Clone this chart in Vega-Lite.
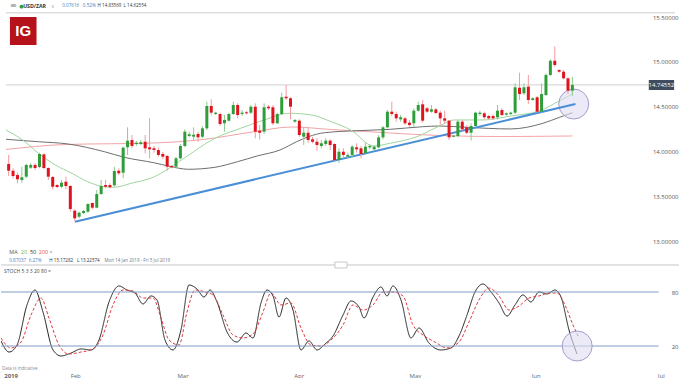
{
"$schema":"https://vega.github.io/schema/vega-lite/v6.json",
"padding":0,
"autosize":{"type":"pad"},
"background":"#ffffff",
"bounds":"flush",
"spacing":0,
"resolve":{"scale":{"color":"independent","strokeDash":"independent"}},
"config":{"view":{"stroke":null},"text":{"font":"Open Sans"},"axis":{"labelFont":"Open Sans"}},
"datasets":{
"one":[{}],
"candles":[
{"i":0,"o":13.867,"h":13.967,"l":13.733,"c":13.792},
{"i":1,"o":13.792,"h":13.819,"l":13.708,"c":13.733},
{"i":2,"o":13.744,"h":13.770,"l":13.652,"c":13.697},
{"i":3,"o":13.689,"h":13.837,"l":13.659,"c":13.719},
{"i":4,"o":13.726,"h":13.867,"l":13.708,"c":13.856},
{"i":5,"o":13.826,"h":13.878,"l":13.811,"c":13.856},
{"i":6,"o":13.856,"h":13.878,"l":13.800,"c":13.822},
{"i":7,"o":13.833,"h":13.992,"l":13.819,"c":13.978},
{"i":8,"o":13.974,"h":13.986,"l":13.808,"c":13.822},
{"i":9,"o":13.822,"h":13.830,"l":13.689,"c":13.726},
{"i":10,"o":13.722,"h":13.733,"l":13.586,"c":13.614},
{"i":11,"o":13.633,"h":13.644,"l":13.600,"c":13.611},
{"i":12,"o":13.614,"h":13.689,"l":13.597,"c":13.659},
{"i":13,"o":13.670,"h":13.726,"l":13.586,"c":13.622},
{"i":14,"o":13.622,"h":13.633,"l":13.337,"c":13.367},
{"i":15,"o":13.348,"h":13.363,"l":13.2257,"c":13.263},
{"i":16,"o":13.281,"h":13.337,"l":13.263,"c":13.326},
{"i":17,"o":13.322,"h":13.356,"l":13.311,"c":13.344},
{"i":18,"o":13.337,"h":13.430,"l":13.326,"c":13.422},
{"i":19,"o":13.433,"h":13.437,"l":13.363,"c":13.381},
{"i":20,"o":13.381,"h":13.578,"l":13.374,"c":13.533},
{"i":21,"o":13.533,"h":13.689,"l":13.522,"c":13.622},
{"i":22,"o":13.633,"h":13.689,"l":13.597,"c":13.614},
{"i":23,"o":13.633,"h":13.652,"l":13.597,"c":13.608},
{"i":24,"o":13.630,"h":13.837,"l":13.614,"c":13.789},
{"i":25,"o":13.792,"h":13.819,"l":13.744,"c":13.763},
{"i":26,"o":13.770,"h":14.059,"l":13.708,"c":14.048},
{"i":27,"o":14.052,"h":14.274,"l":13.967,"c":14.126},
{"i":28,"o":14.133,"h":14.189,"l":14.041,"c":14.067},
{"i":29,"o":14.089,"h":14.122,"l":14.067,"c":14.103},
{"i":30,"o":14.089,"h":14.133,"l":14.078,"c":14.108},
{"i":31,"o":14.114,"h":14.189,"l":13.986,"c":14.041},
{"i":32,"o":14.052,"h":14.374,"l":13.930,"c":14.030},
{"i":33,"o":14.041,"h":14.067,"l":13.992,"c":14.022},
{"i":34,"o":14.022,"h":14.052,"l":13.948,"c":13.967},
{"i":35,"o":13.978,"h":14.003,"l":13.919,"c":13.948},
{"i":36,"o":13.956,"h":13.967,"l":13.792,"c":13.837},
{"i":37,"o":13.844,"h":13.856,"l":13.819,"c":13.830},
{"i":38,"o":13.837,"h":13.948,"l":13.819,"c":13.930},
{"i":39,"o":13.930,"h":14.089,"l":13.919,"c":14.067},
{"i":40,"o":14.067,"h":14.252,"l":14.052,"c":14.226},
{"i":41,"o":14.178,"h":14.226,"l":14.163,"c":14.197},
{"i":42,"o":14.170,"h":14.274,"l":14.133,"c":14.192},
{"i":43,"o":14.200,"h":14.226,"l":14.114,"c":14.163},
{"i":44,"o":14.170,"h":14.289,"l":14.152,"c":14.263},
{"i":45,"o":14.263,"h":14.559,"l":14.244,"c":14.511},
{"i":46,"o":14.511,"h":14.586,"l":14.411,"c":14.437},
{"i":47,"o":14.422,"h":14.448,"l":14.411,"c":14.437},
{"i":48,"o":14.422,"h":14.437,"l":14.289,"c":14.311},
{"i":49,"o":14.319,"h":14.411,"l":14.226,"c":14.356},
{"i":50,"o":14.348,"h":14.437,"l":14.337,"c":14.422},
{"i":51,"o":14.422,"h":14.559,"l":14.411,"c":14.522},
{"i":52,"o":14.522,"h":14.541,"l":14.374,"c":14.411},
{"i":53,"o":14.422,"h":14.467,"l":14.400,"c":14.437},
{"i":54,"o":14.441,"h":14.456,"l":14.417,"c":14.430},
{"i":55,"o":14.437,"h":14.522,"l":14.422,"c":14.503},
{"i":56,"o":14.503,"h":14.541,"l":14.152,"c":14.226},
{"i":57,"o":14.237,"h":14.300,"l":14.141,"c":14.214},
{"i":58,"o":14.226,"h":14.541,"l":14.200,"c":14.497},
{"i":59,"o":14.503,"h":14.522,"l":14.467,"c":14.486},
{"i":60,"o":14.497,"h":14.522,"l":14.300,"c":14.319},
{"i":61,"o":14.319,"h":14.437,"l":14.311,"c":14.422},
{"i":62,"o":14.422,"h":14.659,"l":14.411,"c":14.608},
{"i":63,"o":14.614,"h":14.744,"l":14.578,"c":14.597},
{"i":64,"o":14.597,"h":14.608,"l":14.363,"c":14.503},
{"i":65,"o":14.337,"h":14.367,"l":14.326,"c":14.356},
{"i":66,"o":14.348,"h":14.363,"l":14.170,"c":14.189},
{"i":67,"o":14.170,"h":14.274,"l":14.078,"c":14.214},
{"i":68,"o":14.214,"h":14.274,"l":14.103,"c":14.133},
{"i":69,"o":14.141,"h":14.170,"l":14.097,"c":14.114},
{"i":70,"o":14.114,"h":14.152,"l":14.014,"c":14.078},
{"i":71,"o":14.067,"h":14.133,"l":14.041,"c":14.097},
{"i":72,"o":14.089,"h":14.152,"l":14.067,"c":14.126},
{"i":73,"o":14.126,"h":14.141,"l":14.022,"c":14.078},
{"i":74,"o":14.089,"h":14.097,"l":13.903,"c":13.911},
{"i":75,"o":13.911,"h":14.041,"l":13.878,"c":14.003},
{"i":76,"o":14.003,"h":14.041,"l":13.930,"c":13.967},
{"i":77,"o":13.948,"h":13.992,"l":13.926,"c":13.967},
{"i":78,"o":13.967,"h":14.078,"l":13.941,"c":14.059},
{"i":79,"o":14.052,"h":14.097,"l":13.992,"c":14.030},
{"i":80,"o":14.041,"h":14.067,"l":13.930,"c":13.978},
{"i":81,"o":13.986,"h":14.103,"l":13.967,"c":14.059},
{"i":82,"o":14.052,"h":14.089,"l":14.030,"c":14.067},
{"i":83,"o":14.030,"h":14.072,"l":14.022,"c":14.059},
{"i":84,"o":14.052,"h":14.189,"l":14.041,"c":14.163},
{"i":85,"o":14.163,"h":14.289,"l":14.141,"c":14.274},
{"i":86,"o":14.274,"h":14.467,"l":14.263,"c":14.448},
{"i":87,"o":14.448,"h":14.559,"l":14.400,"c":14.422},
{"i":88,"o":14.422,"h":14.448,"l":14.337,"c":14.374},
{"i":89,"o":14.363,"h":14.411,"l":14.337,"c":14.386},
{"i":90,"o":14.374,"h":14.392,"l":14.300,"c":14.319},
{"i":91,"o":14.326,"h":14.356,"l":14.281,"c":14.300},
{"i":92,"o":14.319,"h":14.486,"l":14.281,"c":14.459},
{"i":93,"o":14.459,"h":14.559,"l":14.448,"c":14.522},
{"i":94,"o":14.530,"h":14.578,"l":14.326,"c":14.348},
{"i":95,"o":14.486,"h":14.500,"l":14.433,"c":14.448},
{"i":96,"o":14.448,"h":14.522,"l":14.437,"c":14.474},
{"i":97,"o":14.474,"h":14.489,"l":14.422,"c":14.433},
{"i":98,"o":14.437,"h":14.459,"l":14.300,"c":14.374},
{"i":99,"o":14.374,"h":14.459,"l":14.319,"c":14.348},
{"i":100,"o":14.348,"h":14.356,"l":14.133,"c":14.163},
{"i":101,"o":14.170,"h":14.189,"l":14.163,"c":14.181},
{"i":102,"o":14.178,"h":14.356,"l":14.163,"c":14.337},
{"i":103,"o":14.337,"h":14.356,"l":14.237,"c":14.252},
{"i":104,"o":14.274,"h":14.300,"l":14.200,"c":14.214},
{"i":105,"o":14.214,"h":14.319,"l":14.126,"c":14.289},
{"i":106,"o":14.289,"h":14.448,"l":14.274,"c":14.437},
{"i":107,"o":14.422,"h":14.459,"l":14.400,"c":14.437},
{"i":108,"o":14.430,"h":14.448,"l":14.363,"c":14.386},
{"i":109,"o":14.400,"h":14.411,"l":14.363,"c":14.374},
{"i":110,"o":14.400,"h":14.422,"l":14.356,"c":14.374},
{"i":111,"o":14.386,"h":14.522,"l":14.363,"c":14.459},
{"i":112,"o":14.467,"h":14.486,"l":14.400,"c":14.411},
{"i":113,"o":14.414,"h":14.439,"l":14.406,"c":14.430},
{"i":114,"o":14.422,"h":14.448,"l":14.411,"c":14.437},
{"i":115,"o":14.437,"h":14.763,"l":14.422,"c":14.719},
{"i":116,"o":14.714,"h":14.881,"l":14.578,"c":14.644},
{"i":117,"o":14.652,"h":14.763,"l":14.633,"c":14.719},
{"i":118,"o":14.726,"h":14.856,"l":14.533,"c":14.578},
{"i":119,"o":14.578,"h":14.608,"l":14.570,"c":14.597},
{"i":120,"o":14.608,"h":14.622,"l":14.437,"c":14.448},
{"i":121,"o":14.448,"h":14.763,"l":14.437,"c":14.644},
{"i":122,"o":14.633,"h":14.874,"l":14.622,"c":14.856},
{"i":123,"o":14.856,"h":15.030,"l":14.844,"c":15.014},
{"i":124,"o":15.014,"h":15.1728,"l":14.948,"c":14.967},
{"i":125,"o":14.911,"h":14.919,"l":14.881,"c":14.892},
{"i":126,"o":14.892,"h":14.911,"l":14.808,"c":14.819},
{"i":127,"o":14.819,"h":14.830,"l":14.644,"c":14.681},
{"i":128,"o":14.681,"h":14.8357,"l":14.6255,"c":14.7455}
],
"ma":[
{"i":-0.6,"p":14.028,"ma":"200"},{"i":12.82,"p":14.083,"ma":"200"},{"i":32.95,"p":14.100,"ma":"200"},{"i":44.14,"p":14.139,"ma":"200"},{"i":55.33,"p":14.222,"ma":"200"},{"i":64.27,"p":14.278,"ma":"200"},{"i":73.22,"p":14.250,"ma":"200"},{"i":86.64,"p":14.211,"ma":"200"},{"i":97.83,"p":14.183,"ma":"200"},{"i":111.25,"p":14.172,"ma":"200"},{"i":128.03,"p":14.178,"ma":"200"},
{"i":-0.6,"p":14.141,"ma":"50"},{"i":6.78,"p":14.114,"ma":"50"},{"i":13.49,"p":14.089,"ma":"50"},{"i":21.77,"p":14.003,"ma":"50"},{"i":26.24,"p":13.941,"ma":"50"},{"i":32.95,"p":13.881,"ma":"50"},{"i":36.31,"p":13.844,"ma":"50"},{"i":40.78,"p":13.808,"ma":"50"},{"i":46.82,"p":13.830,"ma":"50"},{"i":51.97,"p":13.892,"ma":"50"},{"i":56.44,"p":13.956,"ma":"50"},{"i":61.59,"p":14.022,"ma":"50"},{"i":65.39,"p":14.114,"ma":"50"},{"i":68.08,"p":14.170,"ma":"50"},{"i":71.66,"p":14.214,"ma":"50"},{"i":79.26,"p":14.237,"ma":"50"},{"i":86.64,"p":14.252,"ma":"50"},{"i":94.03,"p":14.281,"ma":"50"},{"i":97.83,"p":14.289,"ma":"50"},{"i":104.1,"p":14.274,"ma":"50"},{"i":113.93,"p":14.256,"ma":"50"},{"i":121.31,"p":14.319,"ma":"50"},{"i":125.12,"p":14.386,"ma":"50"},{"i":128.03,"p":14.437,"ma":"50"},
{"i":-0.6,"p":14.244,"ma":"20"},{"i":3.2,"p":14.133,"ma":"20"},{"i":6.78,"p":13.986,"ma":"20"},{"i":10.58,"p":13.856,"ma":"20"},{"i":14.38,"p":13.763,"ma":"20"},{"i":17.96,"p":13.670,"ma":"20"},{"i":21.77,"p":13.614,"ma":"20"},{"i":24.0,"p":13.608,"ma":"20"},{"i":27.81,"p":13.652,"ma":"20"},{"i":32.95,"p":13.722,"ma":"20"},{"i":39.22,"p":13.911,"ma":"20"},{"i":46.82,"p":14.152,"ma":"20"},{"i":52.64,"p":14.263,"ma":"20"},{"i":58.01,"p":14.356,"ma":"20"},{"i":63.83,"p":14.430,"ma":"20"},{"i":68.75,"p":14.411,"ma":"20"},{"i":73.22,"p":14.337,"ma":"20"},{"i":77.7,"p":14.244,"ma":"20"},{"i":82.84,"p":14.067,"ma":"20"},{"i":86.64,"p":14.097,"ma":"20"},{"i":92.68,"p":14.170,"ma":"20"},{"i":97.83,"p":14.289,"ma":"20"},{"i":101.19,"p":14.356,"ma":"20"},{"i":107.9,"p":14.356,"ma":"20"},{"i":113.93,"p":14.400,"ma":"20"},{"i":120.65,"p":14.459,"ma":"20"},{"i":125.12,"p":14.570,"ma":"20"},{"i":128.03,"p":14.644,"ma":"20"}
],
"stoch":[
{"i":-0.6,"s":25.6,"k":"K"},{"i":1.19,"s":13.3,"k":"K"},{"i":2.98,"s":21.1,"k":"K"},{"i":5.21,"s":65.6,"k":"K"},{"i":7.0,"s":82.2,"k":"K"},{"i":8.79,"s":57.8,"k":"K"},{"i":11.03,"s":15.6,"k":"K"},{"i":12.82,"s":8.9,"k":"K"},{"i":15.06,"s":12.2,"k":"K"},{"i":17.29,"s":16.7,"k":"K"},{"i":19.53,"s":15.6,"k":"K"},{"i":21.32,"s":26.7,"k":"K"},{"i":23.56,"s":68.9,"k":"K"},{"i":25.79,"s":86.7,"k":"K"},{"i":27.58,"s":82.2,"k":"K"},{"i":29.37,"s":78.9,"k":"K"},{"i":31.16,"s":66.7,"k":"K"},{"i":32.95,"s":75.6,"k":"K"},{"i":34.3,"s":71.1,"k":"K"},{"i":36.08,"s":26.7,"k":"K"},{"i":37.87,"s":15.6,"k":"K"},{"i":39.66,"s":37.8,"k":"K"},{"i":41.45,"s":87.8,"k":"K"},{"i":43.24,"s":83.3,"k":"K"},{"i":44.81,"s":74.4,"k":"K"},{"i":46.15,"s":82.2,"k":"K"},{"i":47.72,"s":68.9,"k":"K"},{"i":49.96,"s":35.6,"k":"K"},{"i":52.19,"s":24.4,"k":"K"},{"i":54.21,"s":34.4,"k":"K"},{"i":55.77,"s":28.9,"k":"K"},{"i":57.56,"s":67.8,"k":"K"},{"i":58.9,"s":82.2,"k":"K"},{"i":60.25,"s":75.6,"k":"K"},{"i":61.59,"s":52.2,"k":"K"},{"i":63.15,"s":73.3,"k":"K"},{"i":64.72,"s":60.0,"k":"K"},{"i":66.51,"s":15.6,"k":"K"},{"i":68.3,"s":25.6,"k":"K"},{"i":70.09,"s":15.6,"k":"K"},{"i":71.88,"s":22.2,"k":"K"},{"i":73.67,"s":31.1,"k":"K"},{"i":75.91,"s":54.4,"k":"K"},{"i":77.7,"s":70.0,"k":"K"},{"i":79.49,"s":63.3,"k":"K"},{"i":80.6,"s":51.1,"k":"K"},{"i":82.62,"s":74.4,"k":"K"},{"i":84.41,"s":85.6,"k":"K"},{"i":85.75,"s":75.6,"k":"K"},{"i":87.09,"s":86.7,"k":"K"},{"i":88.88,"s":71.1,"k":"K"},{"i":91.12,"s":28.9,"k":"K"},{"i":92.91,"s":40.0,"k":"K"},{"i":95.14,"s":23.3,"k":"K"},{"i":97.83,"s":15.6,"k":"K"},{"i":100.07,"s":17.8,"k":"K"},{"i":101.86,"s":31.1,"k":"K"},{"i":103.65,"s":54.4,"k":"K"},{"i":105.44,"s":80.0,"k":"K"},{"i":107.23,"s":88.9,"k":"K"},{"i":109.02,"s":80.0,"k":"K"},{"i":110.81,"s":67.8,"k":"K"},{"i":112.6,"s":53.3,"k":"K"},{"i":114.39,"s":65.6,"k":"K"},{"i":116.17,"s":76.7,"k":"K"},{"i":117.96,"s":68.9,"k":"K"},{"i":119.75,"s":80.0,"k":"K"},{"i":121.54,"s":77.8,"k":"K"},{"i":123.33,"s":82.2,"k":"K"},{"i":124.68,"s":74.4,"k":"K"},{"i":126.47,"s":37.8,"k":"K"},{"i":128.26,"s":11.1,"k":"K"},
{"i":-0.6,"s":28.9,"k":"D"},{"i":1.63,"s":17.8,"k":"D"},{"i":3.87,"s":24.4,"k":"D"},{"i":6.11,"s":54.4,"k":"D"},{"i":8.34,"s":73.3,"k":"D"},{"i":10.13,"s":51.1,"k":"D"},{"i":12.37,"s":21.1,"k":"D"},{"i":14.61,"s":11.1,"k":"D"},{"i":17.29,"s":13.3,"k":"D"},{"i":19.98,"s":16.7,"k":"D"},{"i":22.21,"s":32.2,"k":"D"},{"i":24.45,"s":65.6,"k":"D"},{"i":26.69,"s":82.2,"k":"D"},{"i":28.93,"s":81.1,"k":"D"},{"i":31.16,"s":73.3,"k":"D"},{"i":33.4,"s":73.3,"k":"D"},{"i":35.19,"s":51.1,"k":"D"},{"i":36.98,"s":26.7,"k":"D"},{"i":39.22,"s":21.1,"k":"D"},{"i":41.01,"s":57.8,"k":"D"},{"i":42.8,"s":82.2,"k":"D"},{"i":45.03,"s":80.0,"k":"D"},{"i":46.82,"s":76.7,"k":"D"},{"i":49.06,"s":54.4,"k":"D"},{"i":51.3,"s":32.2,"k":"D"},{"i":53.53,"s":28.9,"k":"D"},{"i":55.77,"s":33.3,"k":"D"},{"i":58.01,"s":57.8,"k":"D"},{"i":59.8,"s":78.9,"k":"D"},{"i":62.04,"s":65.6,"k":"D"},{"i":64.27,"s":67.8,"k":"D"},{"i":66.51,"s":40.0,"k":"D"},{"i":68.75,"s":21.1,"k":"D"},{"i":70.99,"s":20.0,"k":"D"},{"i":73.22,"s":26.7,"k":"D"},{"i":75.91,"s":43.3,"k":"D"},{"i":78.15,"s":65.6,"k":"D"},{"i":80.38,"s":60.0,"k":"D"},{"i":82.62,"s":65.6,"k":"D"},{"i":84.86,"s":80.0,"k":"D"},{"i":87.09,"s":80.0,"k":"D"},{"i":89.33,"s":75.6,"k":"D"},{"i":91.57,"s":43.3,"k":"D"},{"i":93.8,"s":32.2,"k":"D"},{"i":96.49,"s":24.4,"k":"D"},{"i":99.17,"s":17.8,"k":"D"},{"i":101.86,"s":24.4,"k":"D"},{"i":104.09,"s":46.7,"k":"D"},{"i":106.33,"s":71.1,"k":"D"},{"i":108.57,"s":84.4,"k":"D"},{"i":110.81,"s":75.6,"k":"D"},{"i":113.05,"s":60.0,"k":"D"},{"i":115.28,"s":64.4,"k":"D"},{"i":117.52,"s":73.3,"k":"D"},{"i":119.75,"s":75.6,"k":"D"},{"i":121.99,"s":78.9,"k":"D"},{"i":123.78,"s":78.9,"k":"D"},{"i":125.57,"s":65.6,"k":"D"},{"i":127.36,"s":43.3,"k":"D"},{"i":128.7,"s":28.9,"k":"D"}
]
},
"vconcat":[
{"width":679,"height":265,"resolve":{"axis":{"x":"independent","y":"independent"}},"layer":[
{"data":{"name":"ma"},"mark":{"type":"line","strokeWidth":1,"interpolate":"monotone","clip":true},"encoding":{"x":{"field":"i","type":"quantitative","scale":{"domain":[-0.604,151.3],"nice":false,"zero":false},"axis":null,"title":null},"y":{"field":"p","type":"quantitative","scale":{"domain":[12.7444,15.6889],"nice":false,"zero":false},"title":null,"axis":{"orient":"right","values":[13,13.5,14,14.5,15,15.5],"format":".5f","domain":false,"ticks":false,"grid":false,"labelAlign":"right","labelPadding":-2,"labelFontSize":6,"labelColor":"#555555","labelFlush":false,"labelOverlap":false}},"color":{"field":"ma","type":"nominal","scale":{"domain":["20","50","200"],"range":["#9fd69f","#6e6e6e","#f3a3a6"]},"legend":null}}},
{"data":{"name":"one"},"mark":{"type":"rule","color":"#dedede","strokeWidth":1.5},"encoding":{"x":{"datum":-0.604,"type":"quantitative","axis":null},"x2":{"datum":151.3},"y":{"datum":15.548,"type":"quantitative","axis":null}}},
{"data":{"name":"one"},"mark":{"type":"rule","color":"#cfcfcf","strokeWidth":1},"encoding":{"x":{"datum":-0.604,"type":"quantitative","axis":null},"x2":{"datum":145.4},"y":{"datum":14.74552,"type":"quantitative","axis":null}}},
{"data":{"name":"one"},"mark":{"type":"point","shape":"circle","filled":true,"fill":"#dddcf0","fillOpacity":0.6,"stroke":"#a29fcb","strokeWidth":1,"size":900,"opacity":1},"encoding":{"x":{"datum":128.3,"type":"quantitative","axis":null},"y":{"datum":14.533,"type":"quantitative","axis":null}}},
{"data":{"name":"one"},"mark":{"type":"rule","color":"#4a8fd6","strokeWidth":2},"encoding":{"x":{"datum":15.06,"type":"quantitative","axis":null},"x2":{"datum":128.7},"y":{"datum":13.226,"type":"quantitative","axis":null},"y2":{"datum":14.533}}},
{"data":{"name":"candles"},"mark":{"type":"rule","strokeWidth":1},"encoding":{"x":{"field":"i","type":"quantitative","axis":null,"title":null},"y":{"field":"l","type":"quantitative","axis":null,"title":null},"y2":{"field":"h"},"color":{"condition":{"test":"datum.c >= datum.o","value":"#8dcc8d"},"value":"#f39aa0"}}},
{"data":{"name":"candles"},"mark":{"type":"bar","size":3},"encoding":{"x":{"field":"i","type":"quantitative","axis":null,"title":null},"y":{"field":"o","type":"quantitative","axis":null,"title":null},"y2":{"field":"c"},"color":{"condition":{"test":"datum.c >= datum.o","value":"#2f9e3a"},"value":"#e0141e"}}},
{"data":{"name":"one"},"mark":{"type":"rect","fill":"#3f4b5e"},"encoding":{"x":{"datum":145.35,"type":"quantitative","axis":null},"x2":{"datum":151.1},"y":{"datum":14.7999,"type":"quantitative","axis":null},"y2":{"datum":14.6889}}},
{"data":{"name":"one"},"mark":{"type":"text","color":"#ffffff","fontSize":6,"align":"center","baseline":"middle"},"encoding":{"x":{"datum":148.2,"type":"quantitative","axis":null},"y":{"datum":14.74552,"type":"quantitative","axis":null},"text":{"value":"14.74552"}}},
{"data":{"name":"one"},"mark":{"type":"rect","fill":"#b5121b"},"encoding":{"x":{"datum":0.29,"type":"quantitative","axis":null},"x2":{"datum":6.33},"y":{"datum":15.5,"type":"quantitative","axis":null},"y2":{"datum":15.1889}}},
{"data":{"name":"one"},"mark":{"type":"text","color":"#ffffff","fontSize":15,"fontWeight":"bold","font":"Liberation Sans","align":"center","baseline":"middle"},"encoding":{"x":{"datum":3.31,"type":"quantitative","axis":null},"y":{"datum":15.34,"type":"quantitative","axis":null},"text":{"value":"IG"}}},
{"data":{"name":"one"},"mark":{"type":"text","color":"#777777","fontSize":8,"font":"DejaVu Sans","align":"left","baseline":"middle"},"encoding":{"x":{"datum":0.29,"type":"quantitative","axis":null},"y":{"datum":15.622,"type":"quantitative","axis":null},"text":{"value":"≡"}}},
{"data":{"name":"one"},"mark":{"type":"text","color":"#2e9e3e","fontSize":5,"font":"DejaVu Sans","align":"left","baseline":"middle"},"encoding":{"x":{"datum":2.42,"type":"quantitative","axis":null},"y":{"datum":15.622,"type":"quantitative","axis":null},"text":{"value":"●"}}},
{"data":{"name":"one"},"mark":{"type":"text","color":"#333333","fontSize":5.2,"fontWeight":"bold","align":"left","baseline":"middle"},"encoding":{"x":{"datum":3.3,"type":"quantitative","axis":null},"y":{"datum":15.622,"type":"quantitative","axis":null},"text":{"value":"USD/ZAR"}}},
{"data":{"name":"one"},"mark":{"type":"text","color":"#aaaaaa","fontSize":5,"font":"DejaVu Sans","align":"left","baseline":"middle"},"encoding":{"x":{"datum":9.6,"type":"quantitative","axis":null},"y":{"datum":15.622,"type":"quantitative","axis":null},"text":{"value":"∨"}}},
{"data":{"name":"one"},"mark":{"type":"text","color":"#3f7fc1","fontSize":4.6,"align":"left","baseline":"middle"},"encoding":{"x":{"datum":12.15,"type":"quantitative","axis":null},"y":{"datum":15.622,"type":"quantitative","axis":null},"text":{"value":"0.07616"}}},
{"data":{"name":"one"},"mark":{"type":"text","color":"#3f7fc1","fontSize":4.6,"align":"left","baseline":"middle"},"encoding":{"x":{"datum":16.85,"type":"quantitative","axis":null},"y":{"datum":15.622,"type":"quantitative","axis":null},"text":{"value":"0.52%"}}},
{"data":{"name":"one"},"mark":{"type":"text","color":"#333333","fontSize":4.5,"align":"left","baseline":"middle"},"encoding":{"x":{"datum":20.2,"type":"quantitative","axis":null},"y":{"datum":15.622,"type":"quantitative","axis":null},"text":{"value":"H 14.83569"}}},
{"data":{"name":"one"},"mark":{"type":"text","color":"#333333","fontSize":4.5,"align":"left","baseline":"middle"},"encoding":{"x":{"datum":26.1,"type":"quantitative","axis":null},"y":{"datum":15.622,"type":"quantitative","axis":null},"text":{"value":"L 14.62554"}}},
{"data":{"name":"one"},"mark":{"type":"text","color":"#555555","fontSize":5.5,"align":"left","baseline":"middle"},"encoding":{"x":{"datum":0.13,"type":"quantitative","axis":null},"y":{"datum":12.8856,"type":"quantitative","axis":null},"text":{"value":"MA"}}},
{"data":{"name":"one"},"mark":{"type":"text","color":"#5cb85c","fontSize":5.5,"align":"left","baseline":"middle"},"encoding":{"x":{"datum":2.75,"type":"quantitative","axis":null},"y":{"datum":12.8856,"type":"quantitative","axis":null},"text":{"value":"20"}}},
{"data":{"name":"one"},"mark":{"type":"text","color":"#333333","fontSize":5.5,"align":"left","baseline":"middle"},"encoding":{"x":{"datum":4.83,"type":"quantitative","axis":null},"y":{"datum":12.8856,"type":"quantitative","axis":null},"text":{"value":"50"}}},
{"data":{"name":"one"},"mark":{"type":"text","color":"#e05050","fontSize":5.5,"align":"left","baseline":"middle"},"encoding":{"x":{"datum":6.85,"type":"quantitative","axis":null},"y":{"datum":12.8856,"type":"quantitative","axis":null},"text":{"value":"200"}}},
{"data":{"name":"one"},"mark":{"type":"text","color":"#888888","fontSize":5.5,"align":"left","baseline":"middle"},"encoding":{"x":{"datum":9.3,"type":"quantitative","axis":null},"y":{"datum":12.8856,"type":"quantitative","axis":null},"text":{"value":"×"}}},
{"data":{"name":"one"},"mark":{"type":"text","color":"#3f7fc1","fontSize":4.6,"align":"left","baseline":"middle"},"encoding":{"x":{"datum":0.13,"type":"quantitative","axis":null},"y":{"datum":12.7922,"type":"quantitative","axis":null},"text":{"value":"0.87037"}}},
{"data":{"name":"one"},"mark":{"type":"text","color":"#3f7fc1","fontSize":4.6,"align":"left","baseline":"middle"},"encoding":{"x":{"datum":4.54,"type":"quantitative","axis":null},"y":{"datum":12.7922,"type":"quantitative","axis":null},"text":{"value":"6.27%"}}},
{"data":{"name":"one"},"mark":{"type":"text","color":"#333333","fontSize":4.5,"align":"left","baseline":"middle"},"encoding":{"x":{"datum":9.24,"type":"quantitative","axis":null},"y":{"datum":12.7922,"type":"quantitative","axis":null},"text":{"value":"H 15.17282"}}},
{"data":{"name":"one"},"mark":{"type":"text","color":"#333333","fontSize":4.5,"align":"left","baseline":"middle"},"encoding":{"x":{"datum":15.5,"type":"quantitative","axis":null},"y":{"datum":12.7922,"type":"quantitative","axis":null},"text":{"value":"L 13.22574"}}},
{"data":{"name":"one"},"mark":{"type":"text","color":"#777777","fontSize":4.5,"align":"left","baseline":"middle"},"encoding":{"x":{"datum":21.77,"type":"quantitative","axis":null},"y":{"datum":12.7922,"type":"quantitative","axis":null},"text":{"value":"Mon 14 Jan 2019 - Fri 5 Jul 2019"}}}
]},
{"width":679,"height":99,"resolve":{"axis":{"x":"independent","y":"independent"}},"layer":[
{"data":{"name":"stoch"},"mark":{"type":"line","strokeWidth":1,"interpolate":"monotone","clip":true},"encoding":{"x":{"field":"i","type":"quantitative","scale":{"domain":[-0.604,151.3],"nice":false,"zero":false},"title":null,"axis":{"orient":"bottom","values":[0,16,40,66,92,119,147],"labelExpr":"datum.value==0?'2019':datum.value==16?'Feb':datum.value==40?'Mar':datum.value==66?'Apr':datum.value==92?'May':datum.value==119?'Jun':'Jul'","domain":false,"ticks":false,"grid":false,"labelPadding":8,"labelFontSize":6,"labelColor":"#666666","labelAlign":{"condition":{"test":"datum.value==0","value":"left"},"value":"center"},"labelFontWeight":{"condition":{"test":"datum.value==0","value":"bold"},"value":"normal"},"labelFlush":false,"labelOverlap":false}},"y":{"field":"s","type":"quantitative","scale":{"domain":[0,110],"nice":false,"zero":false},"title":null,"axis":{"orient":"right","values":[20,80],"domain":false,"ticks":false,"grid":false,"labelAlign":"right","labelPadding":-2,"labelFontSize":6,"labelColor":"#555555","labelFlush":false}},"color":{"field":"k","type":"nominal","scale":{"domain":["K","D"],"range":["#222222","#e0393e"]},"legend":null},"strokeDash":{"field":"k","type":"nominal","scale":{"domain":["K","D"],"range":[[1,0],[3,2]]},"legend":null}}},
{"data":{"name":"one"},"mark":{"type":"rule","color":"#d8d8d8","strokeWidth":1.5},"encoding":{"x":{"datum":-0.604,"type":"quantitative","axis":null},"x2":{"datum":151.3},"y":{"datum":110,"type":"quantitative","axis":null}}},
{"data":{"name":"one"},"mark":{"type":"rect","fill":"#ffffff","stroke":"#bbbbbb","strokeWidth":0.8},"encoding":{"x":{"datum":74.1,"type":"quantitative","axis":null},"x2":{"datum":76.8},"y":{"datum":113.3,"type":"quantitative","axis":null},"y2":{"datum":106.7}}},
{"data":{"values":[{"lvl":20},{"lvl":80}]},"mark":{"type":"rule","color":"#7f9cc3","strokeWidth":1},"encoding":{"x":{"datum":-0.604,"type":"quantitative","axis":null},"x2":{"datum":146.5},"y":{"field":"lvl","type":"quantitative","axis":null,"title":null}}},
{"data":{"name":"one"},"mark":{"type":"point","shape":"circle","filled":true,"fill":"#dddcf0","fillOpacity":0.6,"stroke":"#a29fcb","strokeWidth":1,"size":900,"opacity":1},"encoding":{"x":{"datum":128.3,"type":"quantitative","axis":null},"y":{"datum":20,"type":"quantitative","axis":null}}},
{"data":{"name":"one"},"mark":{"type":"text","color":"#444444","fontSize":5,"align":"left","baseline":"middle"},"encoding":{"x":{"datum":0.07,"type":"quantitative","axis":null},"y":{"datum":103.3,"type":"quantitative","axis":null},"text":{"value":"STOCH   5  3  3   20   80   ×"}}},
{"data":{"name":"one"},"mark":{"type":"text","color":"#888888","fontSize":4.5,"align":"left","baseline":"middle"},"encoding":{"x":{"datum":-0.38,"type":"quantitative","axis":null},"y":{"datum":-5.6,"type":"quantitative","axis":null},"text":{"value":"Data is indicative"}}}
]}
]
}
